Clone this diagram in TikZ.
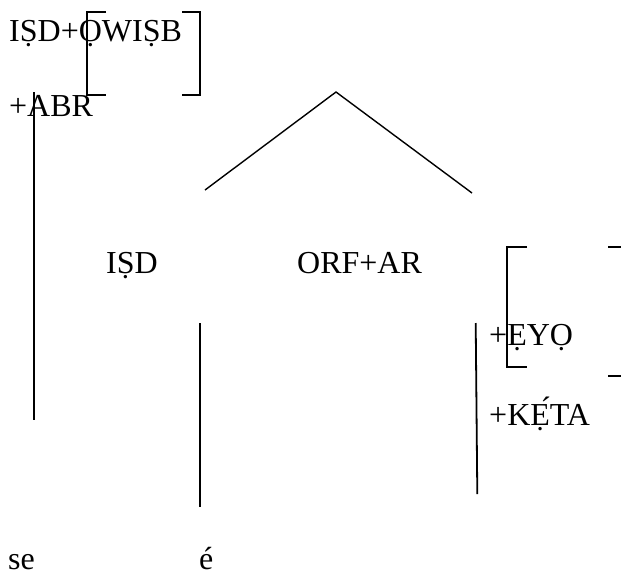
\documentclass[tikz,border=0pt]{standalone}
\usepackage{fontspec}
\setmainfont{Liberation Serif}
\begin{document}
\begin{tikzpicture}[x=1pt,y=-1pt,
  lbl/.style={anchor=base west,inner sep=0pt,font=\fontsize{32}{38}\selectfont},
  treeline/.style={line width=1.4pt},
  stem/.style={line width=1.8pt},
  brk/.style={line width=2.4pt}]
\useasboundingbox (0,0) rectangle (621,579);
% labels
\node[lbl] (top) at (9,41) {IṢD+ỌWIṢB};
\node[lbl] (abr) at (9,116) {+ABR};
\node[lbl] (isd) at (106,273) {IṢD};
\node[lbl] (orf) at (297,273) {ORF+AR};
\node[lbl] (eyo) at (489,345) {+ẸYỌ};
\node[lbl] (keta) at (489,425) {+KẸ́TA};
\node[lbl] (se) at (8,569) {se};
\node[lbl] (e) at (199,569) {é};
% tree
\coordinate (apex) at (336,92);
\coordinate (tl) at (205,190);
\coordinate (tr) at (472,193);
\draw[treeline] (tl) -- (apex) -- (tr);
% stems
\coordinate (s1a) at (34,92);  \coordinate (s1b) at (34,420);
\coordinate (s2a) at (200,323); \coordinate (s2b) at (200,507);
\coordinate (s3a) at (475.7,323); \coordinate (s3b) at (477.3,494);
\draw[stem] (s1a) -- (s1b);
\draw[stem] (s2a) -- (s2b);
\draw[stem] (s3a) -- (s3b);
% brackets top
\draw[brk] (106,12) -- (87,12) -- (87,95) -- (106,95);
\draw[brk] (182,12) -- (200,12) -- (200,95) -- (182,95);
% brackets right
\draw[brk] (527,247) -- (507,247) -- (507,367) -- (527,367);
\draw[brk] (608,247) -- (623,247);
\draw[brk] (608,376) -- (623,376);
\end{tikzpicture}
\end{document}
